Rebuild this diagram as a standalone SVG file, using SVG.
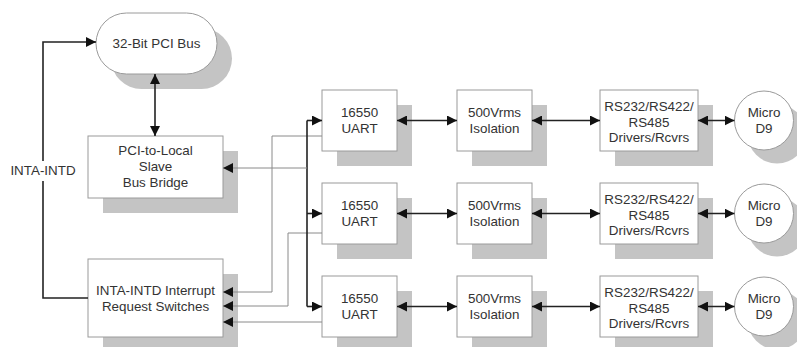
<svg xmlns="http://www.w3.org/2000/svg" width="797" height="347" viewBox="0 0 797 347">
<style>
.box{fill:#fff;stroke:#9a9a9a;stroke-width:1}
.sh{fill:#c4c4c4;stroke:none}
.t{font-family:"Liberation Sans",Arial,sans-serif;font-size:13.4px;fill:#333;text-anchor:middle}
.k{fill:none;stroke:#222;stroke-width:1.6}
.g{fill:none;stroke:#8a8a8a;stroke-width:1}
</style>
<defs>
<marker id="a" markerUnits="userSpaceOnUse" markerWidth="11" markerHeight="10" refX="10" refY="5" orient="auto-start-reverse">
<path d="M0,0 L10,5 L0,10 Z" fill="#111"/>
</marker>
</defs>
<rect width="797" height="347" fill="#fff"/>

<g id="pci-bus">
<rect class="sh" x="111" y="28" width="121" height="61" rx="30.5"/>
<rect class="box" x="96" y="13" width="121" height="61" rx="30.5"/>
<text class="t" x="156.5" y="48">32-Bit PCI Bus</text>
</g>

<g id="bridge">
<rect class="sh" x="103" y="151" width="135" height="62"/>
<rect class="box" x="88" y="136" width="135" height="62"/>
<text class="t" x="155.5" y="155">PCI-to-Local</text>
<text class="t" x="155.5" y="171">Slave</text>
<text class="t" x="155.5" y="187">Bus Bridge</text>
</g>

<g id="irq">
<rect class="sh" x="103" y="274" width="135" height="78"/>
<rect class="box" x="88" y="259" width="135" height="78"/>
<text class="t" x="155.5" y="295">INTA-INTD Interrupt</text>
<text class="t" x="155.5" y="311">Request Switches</text>
</g>

<g id="label-inta">
<text class="t" x="43" y="175">INTA-INTD</text>
</g>

<g id="uart1"><rect class="sh" x="337" y="105" width="75" height="61"/><rect class="box" x="322" y="90" width="75" height="61"/><text class="t" x="359.5" y="116.5">16550</text><text class="t" x="359.5" y="132.5">UART</text></g>
<g id="uart2"><rect class="sh" x="337" y="198" width="75" height="61"/><rect class="box" x="322" y="183" width="75" height="61"/><text class="t" x="359.5" y="209.5">16550</text><text class="t" x="359.5" y="225.5">UART</text></g>
<g id="uart3"><rect class="sh" x="337" y="291" width="75" height="61"/><rect class="box" x="322" y="276" width="75" height="61"/><text class="t" x="359.5" y="302.5">16550</text><text class="t" x="359.5" y="318.5">UART</text></g>

<g id="iso1"><rect class="sh" x="472" y="105" width="75" height="61"/><rect class="box" x="457" y="90" width="75" height="61"/><text class="t" x="494.5" y="116.5">500Vrms</text><text class="t" x="494.5" y="132.5">Isolation</text></g>
<g id="iso2"><rect class="sh" x="472" y="198" width="75" height="61"/><rect class="box" x="457" y="183" width="75" height="61"/><text class="t" x="494.5" y="209.5">500Vrms</text><text class="t" x="494.5" y="225.5">Isolation</text></g>
<g id="iso3"><rect class="sh" x="472" y="291" width="75" height="61"/><rect class="box" x="457" y="276" width="75" height="61"/><text class="t" x="494.5" y="302.5">500Vrms</text><text class="t" x="494.5" y="318.5">Isolation</text></g>

<g id="drv1"><rect class="sh" x="615" y="105" width="98" height="61"/><rect class="box" x="600" y="90" width="98" height="61"/><text class="t" x="649" y="111">RS232/RS422/</text><text class="t" x="649" y="126.5">RS485</text><text class="t" x="649" y="142">Drivers/Rcvrs</text></g>
<g id="drv2"><rect class="sh" x="615" y="198" width="98" height="61"/><rect class="box" x="600" y="183" width="98" height="61"/><text class="t" x="649" y="204">RS232/RS422/</text><text class="t" x="649" y="219.5">RS485</text><text class="t" x="649" y="235">Drivers/Rcvrs</text></g>
<g id="drv3"><rect class="sh" x="615" y="291" width="98" height="61"/><rect class="box" x="600" y="276" width="98" height="61"/><text class="t" x="649" y="297">RS232/RS422/</text><text class="t" x="649" y="312.5">RS485</text><text class="t" x="649" y="328">Drivers/Rcvrs</text></g>

<g id="d9-1"><circle class="sh" cx="777" cy="134" r="29.5"/><circle class="box" cx="764" cy="120.5" r="29.5"/><text class="t" x="764" y="116.5">Micro</text><text class="t" x="764" y="132.5">D9</text></g>
<g id="d9-2"><circle class="sh" cx="777" cy="227" r="29.5"/><circle class="box" cx="764" cy="213.5" r="29.5"/><text class="t" x="764" y="209.5">Micro</text><text class="t" x="764" y="225.5">D9</text></g>
<g id="d9-3"><circle class="sh" cx="777" cy="320" r="29.5"/><circle class="box" cx="764" cy="306.5" r="29.5"/><text class="t" x="764" y="302.5">Micro</text><text class="t" x="764" y="318.5">D9</text></g>

<g id="connectors">
<path class="k" d="M155 74 V136" marker-start="url(#a)" marker-end="url(#a)"/>
<path class="k" d="M43 161 V42 H96" marker-end="url(#a)"/>
<path class="k" d="M43 181 V298 H88"/>
<path class="g" d="M322 136 H272 V292 H223" marker-end="url(#a)"/>
<path class="g" d="M322 233 H288 V306 H223" marker-end="url(#a)"/>
<path class="g" d="M322 322 H223" marker-end="url(#a)"/>
<path class="k" d="M307 120.5 V306.5"/>
<path class="k" d="M307 120.5 H322" marker-end="url(#a)"/>
<path class="k" d="M307 213.5 H322" marker-end="url(#a)"/>
<path class="k" d="M307 306.5 H322" marker-end="url(#a)"/>
<path class="g" d="M307 168 H223" marker-end="url(#a)"/>
<path class="k" d="M397 120.5 H457" marker-start="url(#a)" marker-end="url(#a)"/>
<path class="k" d="M532 120.5 H600" marker-start="url(#a)" marker-end="url(#a)"/>
<path class="k" d="M698 120.5 H734.5" marker-start="url(#a)" marker-end="url(#a)"/>
<path class="k" d="M397 213.5 H457" marker-start="url(#a)" marker-end="url(#a)"/>
<path class="k" d="M532 213.5 H600" marker-start="url(#a)" marker-end="url(#a)"/>
<path class="k" d="M698 213.5 H734.5" marker-start="url(#a)" marker-end="url(#a)"/>
<path class="k" d="M397 306.5 H457" marker-start="url(#a)" marker-end="url(#a)"/>
<path class="k" d="M532 306.5 H600" marker-start="url(#a)" marker-end="url(#a)"/>
<path class="k" d="M698 306.5 H734.5" marker-start="url(#a)" marker-end="url(#a)"/>
</g>
</svg>
